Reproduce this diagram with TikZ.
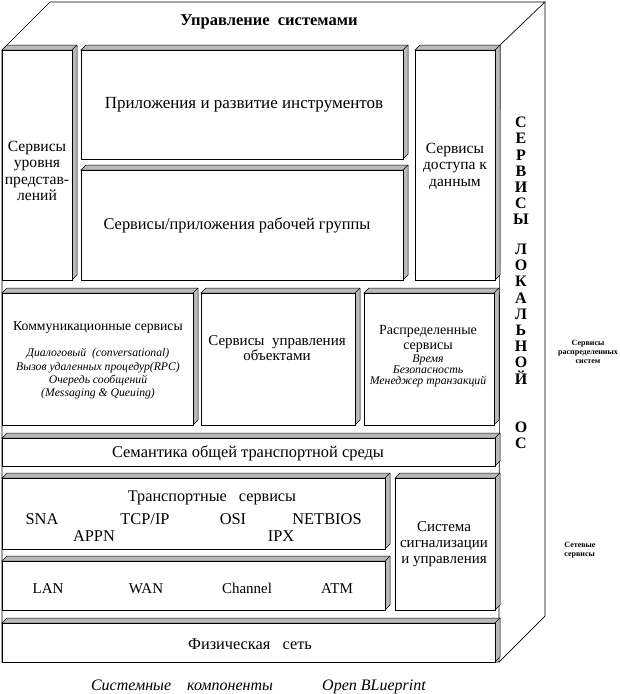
\documentclass[tikz,border=0pt]{standalone}
\usepackage{fontspec}
\setmainfont{Liberation Serif}
\newcommand\tdbox[5]{%
  \path[strip] (#2,#3) -- ++(5,-5) -- (#4+5,#3-5) -- (#4+5,#5-5) -- (#4,#5) -- (#4,#3) -- cycle;
  \draw[stripline] (#4,#3) -- ++(5,-5);
  \node[frontbox, anchor=north west, minimum width=#4-#2, minimum height=#5-#3] (#1) at (#2,#3) {};
}
\newcommand\fsz[2]{\fontsize{#1}{#2}\selectfont}
\begin{document}
\begin{tikzpicture}[x=1pt,y=-1pt,
  frontbox/.style={draw=black,fill=white,line width=0.6pt,inner sep=0pt,outer sep=0pt},
  strip/.style={draw=black,fill=gray!55,line width=0.5pt},
  stripline/.style={draw=black,line width=0.5pt},
  outline/.style={draw=black,line width=0.7pt},
  lbl/.style={font=\fsz{15}{16.3},align=center,inner sep=0pt},
  proto/.style={font=\fsz{16.4}{17},inner sep=0pt,anchor=base},
  net/.style={font=\fsz{15}{16},inner sep=0pt,anchor=base},
  ital/.style={font=\fsz{11.7}{13.3}\itshape,align=center,inner sep=0pt},
  vert/.style={font=\fsz{16}{16.2}\bfseries,align=center,inner sep=0pt},
  side/.style={font=\fsz{8}{8.8}\bfseries,align=center,inner sep=0pt},
  captext/.style={font=\fsz{16}{17}\itshape,inner sep=0pt,anchor=base}
]
\useasboundingbox (0,0) rectangle (620,694);
% big box outline
\coordinate (ftl) at (2,50);
\coordinate (btl) at (50,2);
\coordinate (btr) at (545,2);
\coordinate (ftr) at (500,45);
\coordinate (bbr) at (545,616);
\coordinate (fbr) at (499,662);
\coordinate (fbl) at (2,662);
\draw[outline] (ftl) -- (btl) -- (btr) -- (ftr);
\draw[outline] (btr) -- (bbr) -- (fbr);
\draw[outline] (ftl) -- (fbl) -- (fbr) -- (ftr);
\node[font=\fsz{16.5}{17}\bfseries,inner sep=0pt] (title) at (269,22) {Управление\ \ системами};

% boxes
\tdbox{A}{2}{50}{72}{280}
\tdbox{B}{81}{50}{403}{159}
\tdbox{C}{81}{170}{403}{280}
\tdbox{D}{415}{50}{495}{280}
\tdbox{E}{2}{293}{193}{425}
\tdbox{F}{201}{293}{355}{425}
\tdbox{G}{364}{293}{494}{425}
\tdbox{S}{2}{438}{495}{466}
\tdbox{H}{2}{478}{385}{549}
\tdbox{I}{2}{561}{385}{610}
\tdbox{J}{395}{478}{495}{610}
\tdbox{P}{2}{623}{495}{662}

% texts
\node[lbl,font=\fsz{15.6}{16.3}] (tA) at (37,171) {Сервисы\\уровня\\представ-\\лений};
\node[lbl,font=\fsz{17}{18}] (tB) at (244,105) {Приложения и развитие инструментов};
\node[lbl,font=\fsz{16.4}{17}] (tC) at (237,225) {Сервисы/приложения рабочей группы};
\node[lbl,font=\fsz{15.5}{16.5}] (tD) at (455,166) {Сервисы\\доступа к\\данным};
\node[lbl,font=\fsz{13.7}{15}] (tE) at (98,327) {Коммуникационные сервисы};
\node[ital] (iE) at (98,374) {Диалоговый\ \ (conversational)\\Вызов удаленных процедур(RPC)\\Очередь сообщений\\(Messaging \& Queuing)};
\node[lbl,font=\fsz{15}{15.5}] (tF) at (277,348) {Сервисы\ \ управления\\объектами};
\node[lbl,font=\fsz{14}{14.5}] (tG) at (428,339) {Распределенные\\сервисы};
\node[ital,font=\fsz{11.8}{11}\itshape] (iG) at (428,371) {Время\\Безопасность\\Менеджер транзакций};
\node[lbl,font=\fsz{16.4}{17}] (tS) at (248,453) {Семантика общей транспортной среды};
\node[lbl,font=\fsz{16.2}{17}] (tH) at (212,498) {Транспортные\ \ \ сервисы};
\node[proto] (sna) at (42,524) {SNA};
\node[proto] (tcp) at (145,524) {TCP/IP};
\node[proto] (osi) at (233,524) {OSI};
\node[proto] (netb) at (327,524) {NETBIOS};
\node[proto] (appn) at (94,541) {APPN};
\node[proto] (ipx) at (281,541) {IPX};
\node[net] (lan) at (48,593) {LAN};
\node[net] (wan) at (146,593) {WAN};
\node[net] (chan) at (247,593) {Channel};
\node[net] (atm) at (337,593) {ATM};
\node[lbl] (tJ) at (444,544) {Система\\сигнализации\\и управления};
\node[lbl,font=\fsz{16.3}{17}] (tP) at (250,644) {Физическая\ \ \ сеть};

% vertical label
\node[vert] (v1) at (521,171) {С\\Е\\Р\\В\\И\\С\\Ы};
\node[vert] (v2) at (521,314) {Л\\О\\К\\А\\Л\\Ь\\Н\\О\\Й};
\node[vert] (v3) at (521,435) {О\\С};

% side labels
\node[side] (sd1) at (588,352) {Сервисы\\распределенных\\систем};
\node[side,align=left] (sd2) at (580,550) {Сетевые\\сервисы};

% caption
\node[captext] (cap1) at (182,690) {Системные\ \ \ \ компоненты};
\node[captext] (cap2) at (374,690) {Open BLueprint};
\end{tikzpicture}
\end{document}
